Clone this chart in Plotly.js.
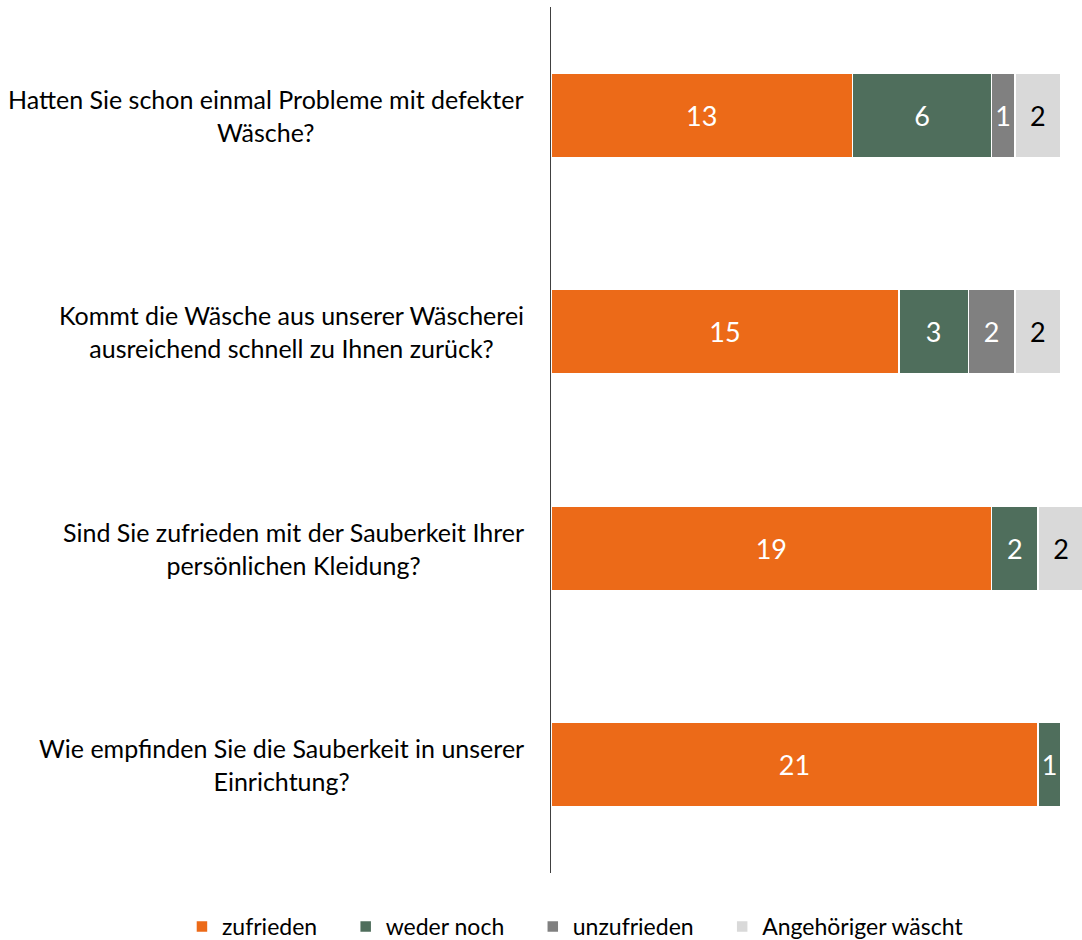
<!DOCTYPE html>
<html>
<head>
<meta charset="utf-8">
<script src="https://cdn.plot.ly/plotly-3.0.1.min.js"></script>
<style>
  html, body { margin: 0; padding: 0; background: #fff; }
  #chart { width: 1082px; height: 940px; }
</style>
</head>
<body>
<div id="chart"></div>
<script>
// Fragen (von oben nach unten)
const fragen = [
  'Hatten Sie schon einmal Probleme mit defekter<br>Wäsche?',
  'Kommt die Wäsche aus unserer Wäscherei<br>ausreichend schnell zu Ihnen zurück?',
  'Sind Sie zufrieden mit der Sauberkeit Ihrer<br>persönlichen Kleidung?',
  'Wie empfinden Sie die Sauberkeit in unserer<br>Einrichtung?'
];
const keys = ['q1', 'q2', 'q3', 'q4'];

const zufrieden   = [13, 15, 19, 21];
const wederNoch   = [6, 3, 2, 1];
const unzufrieden = [1, 2, null, null];
const angehoeriger = [2, 2, 2, null];

const FONT = 'Lato, "Liberation Sans", sans-serif';
const PAD = '&nbsp;&nbsp;&nbsp;&nbsp;';

function serie(name, werte, farbe, textfarbe) {
  return {
    type: 'bar',
    orientation: 'h',
    name: name,
    y: keys,
    x: werte,
    text: werte.map(v => v == null ? '' : String(v)),
    textposition: 'inside',
    insidetextanchor: 'middle',
    textangle: 0,
    constraintext: 'none',
    insidetextfont: { family: FONT, size: 27, color: textfarbe },
    marker: { color: farbe, line: { color: '#ffffff', width: 1.5 } },
    hoverinfo: 'skip'
  };
}

const data = [
  serie('zufrieden' + PAD, zufrieden, '#EC6A18', '#ffffff'),
  serie('weder noch' + PAD, wederNoch, '#4F6E5C', '#ffffff'),
  serie('unzufrieden' + PAD, unzufrieden, '#808080', '#ffffff'),
  serie('Angehöriger wäscht', angehoeriger, '#D9D9D9', '#000000')
];

// Fragen als zentrierte Beschriftung links der Achse
const annotations = keys.map((k, i) => ({
  xref: 'paper', yref: 'y',
  x: 0, y: k,
  xanchor: 'right', yanchor: 'middle',
  xshift: -25,
  align: 'center',
  showarrow: false,
  text: fragen[i],
  font: { family: FONT, size: 25, color: '#000000' }
}));

const layout = {
  width: 1082,
  height: 940,
  margin: { l: 551, r: 0, t: 7, b: 67, autoexpand: false },
  paper_bgcolor: '#ffffff',
  plot_bgcolor: '#ffffff',
  barmode: 'stack',
  bargap: 0.61,
  showlegend: true,
  font: { family: FONT, size: 23, color: '#000000' },
  xaxis: {
    range: [0, 22.9],
    visible: false,
    fixedrange: true
  },
  yaxis: {
    type: 'category',
    categoryorder: 'array',
    categoryarray: keys,
    range: [3.5, -0.5],
    showticklabels: false,
    ticks: '',
    showgrid: false,
    zeroline: false,
    showline: true,
    linecolor: '#404040',
    linewidth: 1.5,
    fixedrange: true
  },
  legend: {
    orientation: 'h',
    x: -0.695,
    xanchor: 'left',
    y: -0.037,
    yanchor: 'top',
    traceorder: 'normal',
    font: { family: FONT, size: 23, color: '#000000' },
    itemclick: false,
    itemdoubleclick: false
  },
  annotations: annotations
};

Plotly.newPlot('chart', data, layout, { displayModeBar: false, staticPlot: true });
</script>
</body>
</html>
